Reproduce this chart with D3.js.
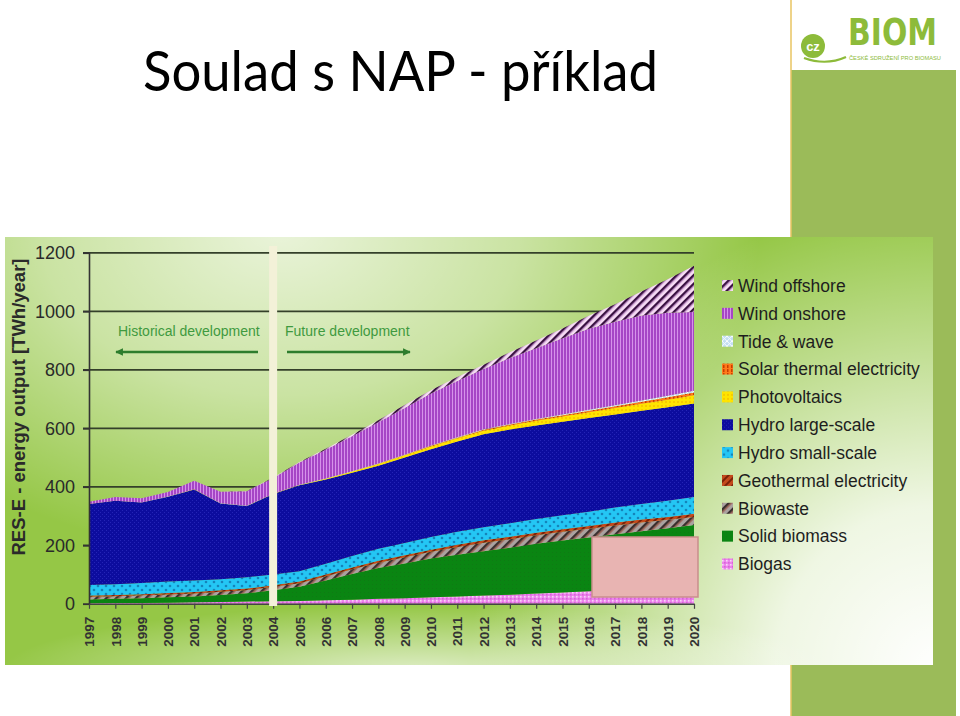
<!DOCTYPE html>
<html><head><meta charset="utf-8">
<script src="https://cdn.jsdelivr.net/npm/d3@7/dist/d3.min.js"></script>
<style>body{margin:0;background:#fff;} svg{display:block;}</style>
</head><body>
<svg id="c" width="960" height="716"></svg>
<script>
// ---------- DATA ----------
const years = [1997,1998,1999,2000,2001,2002,2003,2004,2005,2006,2007,2008,2009,2010,2011,2012,2013,2014,2015,2016,2017,2018,2019,2020];
const biogas        = [2,3,3,4,5,6,8,9,10,12,14,17,19,22,25,28,31,35,39,43,47,50,53,56];
const solidBiomass  = [13,14,16,18,20,24,28,37,48,68,88,105,119,133,143,152,161,170,177,184,191,198,205,213];
const biowaste      = [9,9,10,10,10,11,11,12,12,14,16,18,21,23,26,29,29,29,30,30,30,30,29,28];
const geothermal    = [4,4,4,5,5,5,5,5,6,6,6,7,7,7,8,8,8,9,9,9,10,10,10,11];
const hydroSmall    = [36,37,38,39,40,38,39,37,35,37,39,41,42,43,44,45,46,47,48,49,51,53,55,57];
const hydroLarge    = [277,285,275,290,311,259,243,275,294,288,285,284,292,300,309,318,321,320,319,320,318,319,320,320];
const photovoltaics = [0,0,0,0,0.2,0.3,0.5,1,1.5,2.5,4,6,8,10,11,12,14,16,18,20,22,24,26,28];
const solarThermal  = [0,0,0,0,0,0,0,0,0,0,0.5,1,1,2,2,3,3,4,5,5,6,7,8,9];
const tideWave      = [0.5,0.5,0.5,0.5,0.5,0.5,0.5,0.5,0.5,0.5,0.5,0.5,0.5,1,1,1.5,2,2,2.5,3,3.5,4,5,6];
const windOnshore   = [7,13,14,16,29,39,50,54,76,99,120,141,160,178,193,206,225,242,260,277,286,291,284,270];
const windOffshore  = [0,0,0,0,0,0.3,0.5,1,2,3,5,7,10,11,13,15,20,26,34,45,60,82,115,158];

const seriesNames = ["Biogas","Solid biomass","Biowaste","Geothermal electricity","Hydro small-scale","Hydro large-scale","Photovoltaics","Solar thermal electricity","Tide & wave","Wind onshore","Wind offshore"];
const seriesValues = [biogas,solidBiomass,biowaste,geothermal,hydroSmall,hydroLarge,photovoltaics,solarThermal,tideWave,windOnshore,windOffshore];
const yTicks = [0,200,400,600,800,1000,1200];
const titleText = "Soulad s NAP - příklad";
const yTitle = "RES-E - energy output [TWh/year]";
const histLabel = "Historical development";
const futLabel = "Future development";

// ---------- SETUP ----------
const svg = d3.select("#c");
const defs = svg.append("defs");
const FONT = "'Liberation Sans', Arial, sans-serif";

const x = d3.scaleLinear().domain([1997,2020]).range([89,694]);
const y = d3.scaleLinear().domain([0,1200]).range([603.8,252.8]);

// background gradients
function radial(id, cx, cy, r, stops, extra) {
  const g = defs.append("radialGradient").attr("id", id).attr("gradientUnits","userSpaceOnUse")
    .attr("cx",cx).attr("cy",cy).attr("r",r);
  if (extra) g.attr("gradientTransform", extra);
  stops.forEach(s => g.append("stop").attr("offset",s[0]).attr("stop-color",s[1]).attr("stop-opacity",s[2]));
}
radial("g1", 0, 0, 1, [[0,"#fff",0.8],[0.5,"#fff",0.5],[1,"#fff",0]], "translate(280,230) scale(480,330)");
radial("g2", 940, 670, 470, [[0,"#fff",1],[0.35,"#fff",0.85],[1,"#fff",0]]);
radial("g3", 420, 0, 420, [[0,"#fff",0.7],[1,"#fff",0]], "translate(0,672) scale(1,0.16)");

// patterns
function pat(id, w, h, rot, build) {
  const p = defs.append("pattern").attr("id", id).attr("width", w).attr("height", h)
    .attr("patternUnits","userSpaceOnUse");
  if (rot) p.attr("patternTransform", "rotate(" + rot + ")");
  build(p);
}
pat("p-off", 6, 6, 45, p => {
  p.append("rect").attr("width",6).attr("height",6).attr("fill","#f7dcf5");
  p.append("rect").attr("width",2.4).attr("height",6).attr("fill","#3a1242");
  p.append("rect").attr("x",2.4).attr("width",0.8).attr("height",6).attr("fill","#a468b0");
});
pat("p-on", 3, 3, 0, p => {
  p.append("rect").attr("width",3).attr("height",3).attr("fill","#a646c6");
  p.append("rect").attr("x",2).attr("width",1).attr("height",3).attr("fill","#d692ea");
});
pat("p-tide", 5, 5, 0, p => {
  p.append("rect").attr("width",5).attr("height",5).attr("fill","#c3def4");
  p.append("path").attr("d","M0 0L5 5M5 0L0 5").attr("stroke","#ffffff").attr("stroke-width",0.9);
});
pat("p-st", 4, 4, 0, p => {
  p.append("rect").attr("width",4).attr("height",4).attr("fill","#ff7a1a");
  p.append("rect").attr("x",1).attr("width",1.5).attr("height",3).attr("fill","#c83c00");
});
pat("p-pv", 4, 4, 0, p => {
  p.append("rect").attr("width",4).attr("height",4).attr("fill","#ffe400");
  p.append("circle").attr("cx",2).attr("cy",2).attr("r",0.8).attr("fill","#f0a800");
});
pat("p-hl", 4, 4, 0, p => {
  p.append("rect").attr("width",4).attr("height",4).attr("fill","#0c0c9e");
  p.append("rect").attr("width",1).attr("height",1).attr("fill","#2424b6");
  p.append("rect").attr("x",2).attr("y",2).attr("width",1).attr("height",1).attr("fill","#2424b6");
});
pat("p-hs", 8, 8, 0, p => {
  p.append("rect").attr("width",8).attr("height",8).attr("fill","#24c6f4");
  p.append("circle").attr("cx",2).attr("cy",2).attr("r",1.3).attr("fill","#1584ba");
  p.append("circle").attr("cx",6).attr("cy",6).attr("r",1.3).attr("fill","#1584ba");
});
pat("p-geo", 5, 5, 45, p => {
  p.append("rect").attr("width",5).attr("height",5).attr("fill","#c44a1c");
  p.append("rect").attr("width",2).attr("height",5).attr("fill","#7a2008");
});
pat("p-bw", 7, 7, 45, p => {
  p.append("rect").attr("width",7).attr("height",7).attr("fill","#aaa2a0");
  p.append("rect").attr("width",2.5).attr("height",7).attr("fill","#3a3030");
  p.append("rect").attr("x",2.5).attr("width",1).attr("height",7).attr("fill","#a04a38");
});
pat("p-sb", 4, 4, 0, p => {
  p.append("rect").attr("width",4).attr("height",4).attr("fill","#0a8512");
  p.append("rect").attr("width",1).attr("height",1).attr("fill","#0f7a14");
});
pat("p-bg", 4, 4, 0, p => {
  p.append("rect").attr("width",4).attr("height",4).attr("fill","#ec84ec");
  p.append("rect").attr("width",1.6).attr("height",1.6).attr("fill","#ffffff").attr("opacity",0.65);
  p.append("rect").attr("x",2).attr("y",2).attr("width",1.6).attr("height",1.6).attr("fill","#d862d8");
});
const fills = {
  "Biogas":"url(#p-bg)","Solid biomass":"url(#p-sb)","Biowaste":"url(#p-bw)","Geothermal electricity":"url(#p-geo)",
  "Hydro small-scale":"url(#p-hs)","Hydro large-scale":"url(#p-hl)","Photovoltaics":"url(#p-pv)",
  "Solar thermal electricity":"url(#p-st)","Tide & wave":"url(#p-tide)","Wind onshore":"url(#p-on)","Wind offshore":"url(#p-off)"
};

// arrow markers
defs.append("marker").attr("id","arr").attr("viewBox","0 0 10 10").attr("refX",9).attr("refY",5)
  .attr("markerWidth",3.2).attr("markerHeight",3.2).attr("orient","auto-start-reverse")
  .append("path").attr("d","M0,0L10,5L0,10z").attr("fill","#2d7d2d");

// ---------- SLIDE DECOR ----------
svg.append("rect").attr("x",791).attr("y",70).attr("width",165).attr("height",646).attr("fill","#9bbb59");
svg.append("line").attr("x1",791).attr("x2",791).attr("y1",0).attr("y2",716).attr("stroke","#e8c462").attr("stroke-width",1.5);

// title
svg.append("text").attr("x",143).attr("y",91).attr("font-family","Lato, 'Open Sans', sans-serif")
  .attr("font-size",56).attr("fill","#000").attr("textLength",515).attr("lengthAdjust","spacingAndGlyphs")
  .text(titleText);

// logo
const logo = svg.append("g");
logo.append("path").attr("d","M804,58 Q826,66 846,57").attr("fill","none").attr("stroke","#8dbb3a").attr("stroke-width",2.2);
logo.append("circle").attr("cx",813).attr("cy",46).attr("r",12).attr("fill","#8dbb3a");
logo.append("text").attr("x",813).attr("y",51).attr("text-anchor","middle").attr("font-family",FONT)
  .attr("font-weight","bold").attr("font-size",13).attr("fill","#fff").text("cz");
logo.append("text").attr("x",848).attr("y",45).attr("font-family","'DejaVu Sans', sans-serif").attr("font-weight","bold")
  .attr("font-size",38).attr("fill","#8dbb3a").attr("textLength",89).attr("lengthAdjust","spacingAndGlyphs").text("BIOM");
logo.append("text").attr("x",849).attr("y",60).attr("font-family",FONT)
  .attr("font-size",5.5).attr("fill","#8dbb3a").attr("textLength",92).attr("lengthAdjust","spacingAndGlyphs")
  .text("ČESKÉ SDRUŽENÍ PRO BIOMASU");

// ---------- CHART IMAGE BACKGROUND ----------
svg.append("rect").attr("x",5).attr("y",237).attr("width",928).attr("height",428).attr("fill","#95c746");
["g1","g2","g3"].forEach(g => svg.append("rect").attr("x",5).attr("y",237).attr("width",928).attr("height",428).attr("fill","url(#"+g+")"));

// gridlines
svg.append("g").selectAll("line").data(yTicks.filter(d => d > 0)).join("line")
  .attr("x1",83).attr("x2",694).attr("y1",d => y(d)).attr("y2",d => y(d))
  .attr("stroke","#34402a").attr("stroke-width",1.8);

// stacked areas
const rows = years.map((yr,i) => {
  const r = {year: yr};
  seriesNames.forEach((n,k) => r[n] = seriesValues[k][i]);
  return r;
});
const stacked = d3.stack().keys(seriesNames)(rows);
const area = d3.area().x(d => x(d.data.year)).y0(d => y(d[0])).y1(d => y(d[1]));
svg.append("g").selectAll("path").data(stacked).join("path")
  .attr("d", area).attr("fill", d => fills[d.key]);

// axes
const yAxis = svg.append("g").attr("transform","translate(89,0)")
  .call(d3.axisLeft(y).tickValues(yTicks).tickSize(6).tickPadding(8).tickFormat(d3.format("d")));
yAxis.select(".domain").attr("stroke","#333").attr("stroke-width",1.6);
yAxis.selectAll(".tick line").attr("stroke","#333").attr("stroke-width",1.6);
yAxis.selectAll("text").attr("font-family",FONT).attr("font-size",18).attr("fill","#2a2a2a");

const xAxis = svg.append("g").attr("transform","translate(0,603.8)")
  .call(d3.axisBottom(x).tickValues(years).tickSize(5).tickSizeOuter(0).tickFormat(d3.format("d")));
xAxis.select(".domain").attr("stroke","#444").attr("stroke-width",1.6);
xAxis.selectAll(".tick line").attr("stroke","#444").attr("stroke-width",1.2);
xAxis.selectAll("text").attr("font-family",FONT).attr("font-size",13.5).attr("font-weight","bold")
  .attr("fill","#333").attr("text-anchor","end").attr("dy","0.35em")
  .attr("transform","translate(0,13) rotate(-90)").attr("x",0).attr("y",0);

// y title
svg.append("text").attr("transform","translate(25,407) rotate(-90)").attr("text-anchor","middle")
  .attr("font-family",FONT).attr("font-weight","bold").attr("font-size",18.5).attr("fill","#2a2a2a").text(yTitle);

// 2004 separator band
svg.append("rect").attr("x",x(2004)-4).attr("y",246).attr("width",8).attr("height",360).attr("fill","#f3f1d8");

// annotations
svg.append("text").attr("x",118).attr("y",336).attr("font-family",FONT).attr("font-size",14)
  .attr("fill","#3f9a3f").text(histLabel);
svg.append("text").attr("x",285).attr("y",336).attr("font-family",FONT).attr("font-size",14)
  .attr("fill","#3f9a3f").text(futLabel);
svg.append("line").attr("x1",258).attr("x2",116).attr("y1",352).attr("y2",352)
  .attr("stroke","#2d7d2d").attr("stroke-width",2.4).attr("marker-end","url(#arr)");
svg.append("line").attr("x1",287).attr("x2",410).attr("y1",352).attr("y2",352)
  .attr("stroke","#2d7d2d").attr("stroke-width",2.4).attr("marker-end","url(#arr)");

// overlay box
svg.append("rect").attr("x",592).attr("y",537).attr("width",106).attr("height",60)
  .attr("fill","#e8b4b2").attr("stroke","#c98e8c").attr("stroke-width",1.5);

// legend
const legendKeys = seriesNames.slice().reverse();
const lg = svg.append("g").selectAll("g").data(legendKeys).join("g")
  .attr("transform",(d,i) => "translate(722," + (285.5 + i*27.85) + ")");
lg.append("rect").attr("x",0).attr("y",-5.5).attr("width",11).attr("height",11).attr("fill", d => fills[d]);
lg.append("text").attr("x",16).attr("dy","0.36em").attr("font-family",FONT).attr("font-size",17.5)
  .attr("fill","#1e1e1e").text(d => d);
</script>
</body></html>
